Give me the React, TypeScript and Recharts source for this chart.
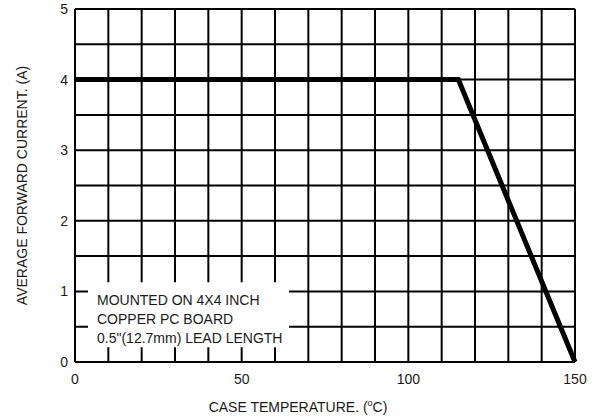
import { LineChart, Line, XAxis, YAxis, CartesianGrid, ReferenceArea, Label } from "recharts";

// derating curve: case temperature (°C) vs average forward current (A)
const temps = [0, 115, 150];
const currents = [4, 4, 0];

const xTicks = [0, 50, 100, 150];
const yTicks = [0, 1, 2, 3, 4, 5];
const gridTemps = [0, 10, 20, 30, 40, 50, 60, 70, 80, 90, 100, 110, 120, 130, 140, 150];
const gridCurrents = [0, 0.5, 1, 1.5, 2, 2.5, 3, 3.5, 4, 4.5, 5];

const noteLines = ["MOUNTED ON 4X4 INCH", "COPPER PC BOARD", '0.5"(12.7mm) LEAD LENGTH'];

const data = temps.map((t, i) => ({ temp: t, current: currents[i] }));

const FONT = "'Liberation Sans', Arial, sans-serif";
const INK = "#1a1a1a";

function NoteText(props: any) {
  const { viewBox } = props;
  const x = viewBox.x + 9;
  const y = viewBox.y + 23;
  return (
    <text x={x} y={y} fontFamily={FONT} fontSize={14} fill={INK}>
      {noteLines.map((l, i) => (
        <tspan key={i} x={x} y={y + i * 19}>
          {l}
        </tspan>
      ))}
    </text>
  );
}

function XTitle(props: any) {
  const { viewBox } = props;
  const cx = viewBox.x + viewBox.width / 2 - 27;
  return (
    <text x={cx} y={412} textAnchor="middle" fontFamily={FONT} fontSize={14} fill={INK}>
      CASE TEMPERATURE. (
      <tspan fontSize={9} dy={-6}>o</tspan>
      <tspan dy={6}>C)</tspan>
    </text>
  );
}

function YTitle(props: any) {
  const { viewBox } = props;
  const cy = viewBox.y + viewBox.height / 2;
  return (
    <text
      x={27}
      y={cy}
      transform={`rotate(-90, 27, ${cy})`}
      textAnchor="middle"
      fontFamily={FONT}
      fontSize={14}
      fill={INK}
    >
      AVERAGE FORWARD CURRENT. (A)
    </text>
  );
}

export default function App() {
  return (
    <div style={{ position: "absolute", left: 0, top: 0, background: "#fff" }}>
      <LineChart width={598} height={419} data={data} margin={{ top: 9, right: 23, left: 0, bottom: 0 }}>
        <CartesianGrid
          stroke="#000"
          strokeWidth={2}
          verticalValues={gridTemps}
          horizontalValues={gridCurrents}
        />
        <XAxis
          dataKey="temp"
          type="number"
          domain={[0, 150]}
          ticks={xTicks}
          axisLine={false}
          tickLine={false}
          height={57}
          tickMargin={6}
          tick={{ fontSize: 14, fill: INK, fontFamily: FONT }}
        >
          <Label content={<XTitle />} />
        </XAxis>
        <YAxis
          type="number"
          domain={[0, 5]}
          ticks={yTicks}
          axisLine={false}
          tickLine={false}
          width={75}
          tickMargin={1}
          tick={{ fontSize: 14, fill: INK, fontFamily: FONT }}
        >
          <Label content={<YTitle />} />
        </YAxis>
        <ReferenceArea
          x1={3.9}
          x2={64.2}
          y1={0.21}
          y2={1.13}
          fill="#fff"
          fillOpacity={1}
          stroke="none"
          label={<NoteText />}
        />
        <Line
          dataKey="current"
          type="linear"
          stroke="#000"
          strokeWidth={5}
          strokeLinejoin="miter"
          dot={false}
          isAnimationActive={false}
        />
      </LineChart>
    </div>
  );
}
